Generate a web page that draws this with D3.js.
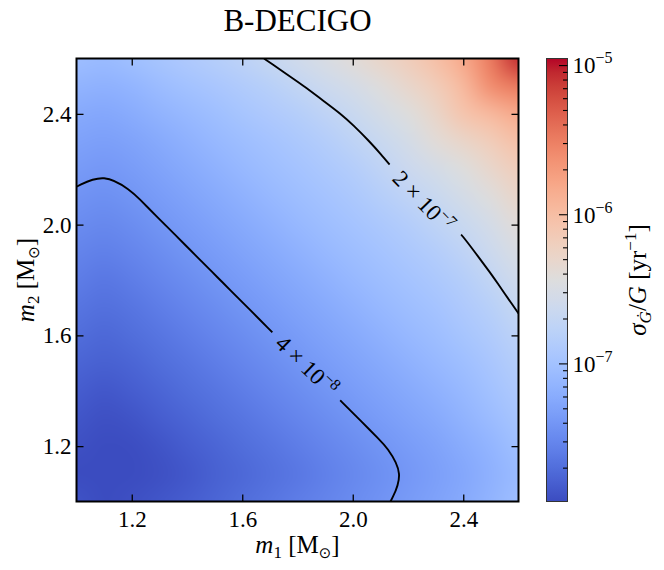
<!DOCTYPE html>
<html>
<head>
<meta charset="utf-8">
<script src="https://cdn.jsdelivr.net/npm/d3@7"></script>
<style>
  body { margin: 0; background: #fff; }
  text { font-family: "Liberation Serif", "DejaVu Serif", serif; fill: #000; }
</style>
</head>
<body>
<div id="content"></div>
<script>
let width = 664;
let height = 570;
let margin = ({top: 58.5, right: 145.5, bottom: 68.5, left: 76.5});

// Grid of masses (solar masses)
const m1Values = [1.0, 1.1, 1.2, 1.3, 1.4, 1.5, 1.6, 1.7, 1.8, 1.9, 2.0, 2.1, 2.2, 2.3, 2.4, 2.5, 2.6];
const m2Values = [1.0, 1.1, 1.2, 1.3, 1.4, 1.5, 1.6, 1.7, 1.8, 1.9, 2.0, 2.1, 2.2, 2.3, 2.4, 2.5, 2.6];

// log10 of sigma_Gdot/G [1/yr], one row per m2 value, one column per m1 value
const logSigma = [
  [-7.88, -7.93, -7.90, -7.86, -7.81, -7.76, -7.70, -7.65, -7.59, -7.54, -7.48, -7.42, -7.36, -7.30, -7.23, -7.14, -7.04],
  [-7.93, -7.97, -7.95, -7.90, -7.85, -7.79, -7.74, -7.68, -7.63, -7.57, -7.51, -7.45, -7.39, -7.33, -7.26, -7.17, -7.07],
  [-7.90, -7.95, -7.92, -7.87, -7.81, -7.76, -7.70, -7.65, -7.59, -7.53, -7.47, -7.41, -7.35, -7.29, -7.22, -7.13, -7.02],
  [-7.86, -7.90, -7.87, -7.81, -7.76, -7.70, -7.65, -7.59, -7.53, -7.47, -7.41, -7.35, -7.29, -7.23, -7.15, -7.06, -6.96],
  [-7.81, -7.85, -7.81, -7.76, -7.70, -7.65, -7.59, -7.53, -7.47, -7.41, -7.35, -7.29, -7.23, -7.17, -7.09, -7.00, -6.90],
  [-7.76, -7.79, -7.76, -7.70, -7.65, -7.59, -7.53, -7.47, -7.41, -7.35, -7.29, -7.23, -7.17, -7.10, -7.03, -6.94, -6.84],
  [-7.70, -7.74, -7.70, -7.65, -7.59, -7.53, -7.47, -7.41, -7.35, -7.29, -7.23, -7.17, -7.10, -7.04, -6.96, -6.88, -6.77],
  [-7.65, -7.68, -7.65, -7.59, -7.53, -7.47, -7.41, -7.35, -7.29, -7.23, -7.17, -7.10, -7.04, -6.98, -6.90, -6.81, -6.68],
  [-7.59, -7.63, -7.59, -7.53, -7.47, -7.41, -7.35, -7.29, -7.23, -7.17, -7.10, -7.04, -6.98, -6.92, -6.84, -6.72, -6.59],
  [-7.54, -7.57, -7.53, -7.47, -7.41, -7.35, -7.29, -7.23, -7.17, -7.10, -7.04, -6.98, -6.92, -6.85, -6.75, -6.63, -6.50],
  [-7.48, -7.51, -7.47, -7.41, -7.35, -7.29, -7.23, -7.17, -7.10, -7.04, -6.98, -6.92, -6.85, -6.76, -6.66, -6.54, -6.40],
  [-7.42, -7.45, -7.41, -7.35, -7.29, -7.23, -7.17, -7.10, -7.04, -6.98, -6.92, -6.84, -6.75, -6.66, -6.55, -6.43, -6.29],
  [-7.36, -7.39, -7.35, -7.29, -7.23, -7.17, -7.10, -7.04, -6.98, -6.92, -6.85, -6.75, -6.64, -6.55, -6.44, -6.31, -6.18],
  [-7.30, -7.33, -7.29, -7.23, -7.17, -7.10, -7.04, -6.98, -6.92, -6.85, -6.76, -6.66, -6.55, -6.40, -6.29, -6.17, -6.03],
  [-7.23, -7.26, -7.22, -7.15, -7.09, -7.03, -6.96, -6.90, -6.84, -6.75, -6.66, -6.55, -6.44, -6.29, -6.08, -5.96, -5.82],
  [-7.14, -7.17, -7.13, -7.06, -7.00, -6.94, -6.88, -6.81, -6.72, -6.63, -6.54, -6.43, -6.31, -6.17, -5.96, -5.61, -5.48],
  [-7.04, -7.07, -7.02, -6.96, -6.90, -6.84, -6.77, -6.68, -6.59, -6.50, -6.40, -6.29, -6.18, -6.03, -5.82, -5.48, -5.07]
];

// Contour levels drawn as lines
const contourLevels = [4e-8, 2e-7];

// Tick values
const xTicks = [1.2, 1.6, 2.0, 2.4];
const yTicks = [1.2, 1.6, 2.0, 2.4];
const cbarRange = [1.186e-8, 1.107e-5];
const cbarMajor = [1e-7, 1e-6, 1e-5];
const cbarMinor = [2e-8, 3e-8, 4e-8, 5e-8, 6e-8, 7e-8, 8e-8, 9e-8,
                   2e-7, 3e-7, 4e-7, 5e-7, 6e-7, 7e-7, 8e-7, 9e-7,
                   2e-6, 3e-6, 4e-6, 5e-6, 6e-6, 7e-6, 8e-6, 9e-6];

// coolwarm colour map stops
const coolwarm = ["#3b4cc0", "#445acc", "#4d68d7", "#5775e1", "#6282ea", "#6c8ef1", "#779af7", "#82a5fb",
                  "#8db0fe", "#98b9ff", "#a3c2ff", "#aec9fd", "#b8d0f9", "#c2d5f4", "#ccd9ee", "#d5dbe6",
                  "#dddddd", "#e5d8d1", "#ecd3c5", "#f1ccb9", "#f5c4ad", "#f7bba0", "#f7b194", "#f7a687",
                  "#f49a7b", "#f18d6f", "#ec7f63", "#e57058", "#de604d", "#d55042", "#cb3e38", "#c0282f", "#b40426"];

// where the inline contour labels sit (data coords) and their rotation
const labelSpots = [{m1: 1.834, m2: 1.491, angle: 44, gap: 96},
                    {m1: 2.256, m2: 2.084, angle: 46, gap: 100}];

let plotRight = width - margin.right;
let plotBottom = height - margin.bottom;
let cbar = ({left: 546.5, right: 567.5});

let svg = d3.select("#content")
    .append("svg")
    .attr("width", width)
    .attr("height", height);

let xScale = d3.scaleLinear()
    .domain([m1Values[0], m1Values[m1Values.length - 1]])
    .range([margin.left, plotRight]);
let yScale = d3.scaleLinear()
    .domain([m2Values[0], m2Values[m2Values.length - 1]])
    .range([plotBottom, margin.top]);

let logMin = Math.log10(cbarRange[0]);
let logMax = Math.log10(cbarRange[1]);
let tScale = d3.scaleLinear().domain([logMin, logMax]).range([0, 1]).clamp(true);
let cmap = d3.piecewise(d3.interpolateRgb, coolwarm);
let colorOf = v => cmap(tScale(v));

let defs = svg.append("defs");
defs.append("clipPath").attr("id", "plotClip")
    .append("rect")
    .attr("x", margin.left).attr("y", margin.top)
    .attr("width", plotRight - margin.left).attr("height", plotBottom - margin.top);

// grid coordinates (samples sit at k + 0.5) -> pixels
let nx = m1Values.length, ny = m2Values.length;
let gx = d3.scaleLinear().domain([0.5, nx - 0.5]).range([xScale(m1Values[0]), xScale(m1Values[nx - 1])]);
let gy = d3.scaleLinear().domain([0.5, ny - 0.5]).range([yScale(m2Values[0]), yScale(m2Values[ny - 1])]);
let flat = logSigma.flat();

// Field: one coloured pixel per grid cell, shown smoothly scaled (like imshow)
let small = document.createElement("canvas");
small.width = nx; small.height = ny;
let sctx = small.getContext("2d");
let img = sctx.createImageData(nx, ny);
logSigma.forEach((row, j) => row.forEach((v, i) => {
  let c = d3.rgb(colorOf(v));
  let k = ((ny - 1 - j) * nx + i) * 4;
  img.data[k] = c.r; img.data[k + 1] = c.g; img.data[k + 2] = c.b; img.data[k + 3] = 255;
}));
sctx.putImageData(img, 0, 0);

let fx0 = gx(0), fx1 = gx(nx), fy0 = gy(ny), fy1 = gy(0);
let big = document.createElement("canvas");
big.width = Math.round(fx1 - fx0); big.height = Math.round(fy1 - fy0);
let bctx = big.getContext("2d");
bctx.imageSmoothingEnabled = true;
bctx.imageSmoothingQuality = "high";
bctx.drawImage(small, 0, 0, big.width, big.height);

let field = svg.append("g").attr("clip-path", "url(#plotClip)");
field.append("image")
    .attr("href", big.toDataURL())
    .attr("x", fx0).attr("y", fy0)
    .attr("width", fx1 - fx0).attr("height", fy1 - fy0)
    .attr("preserveAspectRatio", "none");

// Contour lines: keep only the true crossings, drop the outer frame of each ring
function contourLines(geom) {
  let lines = [];
  let edge = p => p[0] === 0 || p[0] === nx || p[1] === 0 || p[1] === ny;
  geom.coordinates.forEach(poly => poly.forEach(ring => {
    let pts = ring.slice(0, -1);
    let k = pts.findIndex(edge);
    if (k < 0) { lines.push(ring); return; }
    pts = pts.slice(k).concat(pts.slice(0, k), [pts[k]]);
    let cur = [];
    pts.forEach(p => {
      if (edge(p)) {
        if (cur.length > 1) lines.push(cur);
        cur = [];
      } else {
        cur.push(p);
      }
    });
  }));
  return lines.map(l => l.map(p => [gx(p[0]), gy(p[1])]));
}

let mask = defs.append("mask").attr("id", "gapMask")
    .attr("maskUnits", "userSpaceOnUse")
    .attr("x", 0).attr("y", 0).attr("width", width).attr("height", height);
mask.append("rect").attr("width", width).attr("height", height).attr("fill", "white");
labelSpots.forEach(s => {
  mask.append("rect")
      .attr("x", -s.gap / 2).attr("y", -16)
      .attr("width", s.gap).attr("height", 32)
      .attr("fill", "black")
      .attr("transform", `translate(${xScale(s.m1)},${yScale(s.m2)}) rotate(${s.angle})`);
});

let lineGen = d3.line().curve(d3.curveBasis);
let contourGeoms = d3.contours().size([nx, ny])
    .thresholds(contourLevels.map(v => Math.log10(v)))(flat);

let lineLayer = svg.append("g").attr("clip-path", "url(#plotClip)")
    .append("g").attr("mask", "url(#gapMask)");
contourGeoms.forEach(g => {
  contourLines(g).forEach(l => {
    lineLayer.append("path")
        .attr("d", lineGen(l))
        .attr("fill", "none")
        .attr("stroke", "#000")
        .attr("stroke-width", 1.9);
  });
});

// Inline labels
contourLevels.forEach((v, i) => {
  let s = labelSpots[i];
  let parts = v.toExponential().split("e");
  let t = svg.append("text")
      .attr("transform", `translate(${xScale(s.m1)},${yScale(s.m2)}) rotate(${s.angle})`)
      .attr("text-anchor", "middle")
      .attr("dy", "0.35em")
      .attr("font-size", 23);
  t.append("tspan").text(`${parts[0]} × 10`);
  t.append("tspan").attr("dy", -9).attr("font-size", 16).text("\u2212" + (-parseInt(parts[1])));
});

// Axes: ticks inward on all four sides
let fmt = d3.format(".1f");
let axB = svg.append("g")
    .attr("transform", `translate(0,${plotBottom})`)
    .call(d3.axisBottom(xScale).tickValues(xTicks).tickSize(-7).tickPadding(9).tickFormat(fmt));
let axT = svg.append("g")
    .attr("transform", `translate(0,${margin.top})`)
    .call(d3.axisTop(xScale).tickValues(xTicks).tickSize(-7).tickFormat(""));
let axL = svg.append("g")
    .attr("transform", `translate(${margin.left},0)`)
    .call(d3.axisLeft(yScale).tickValues(yTicks).tickSize(-7).tickPadding(5).tickFormat(fmt));
let axR = svg.append("g")
    .attr("transform", `translate(${plotRight},0)`)
    .call(d3.axisRight(yScale).tickValues(yTicks).tickSize(-7).tickFormat(""));
[axB, axT, axL, axR].forEach(a => {
  a.select(".domain").remove();
  a.selectAll(".tick line").attr("stroke", "#000").attr("stroke-width", 1.3);
  a.selectAll("text").attr("font-size", 23).attr("font-family", null).attr("fill", "#000");
});

svg.append("rect")
    .attr("x", margin.left).attr("y", margin.top)
    .attr("width", plotRight - margin.left).attr("height", plotBottom - margin.top)
    .attr("fill", "none").attr("stroke", "#000").attr("stroke-width", 2);

// Axis labels
function massLabel(sel, idx) {
  sel.attr("font-size", 25).attr("text-anchor", "middle");
  sel.append("tspan").attr("font-style", "italic").text("m");
  sel.append("tspan").attr("font-size", 17).attr("dy", 5).text(idx);
  sel.append("tspan").attr("dy", -5).text(" [M");
  sel.append("tspan").attr("font-size", 15).attr("dy", 5).attr("font-family", "DejaVu Sans").text("\u2299");
  sel.append("tspan").attr("dy", -5).text("]");
}
svg.append("text")
    .attr("x", (margin.left + plotRight) / 2).attr("y", 553)
    .call(massLabel, "1");
svg.append("text")
    .attr("transform", `translate(34,${(margin.top + plotBottom) / 2}) rotate(-90)`)
    .call(massLabel, "2");

// Title
svg.append("text")
    .attr("x", (margin.left + plotRight) / 2).attr("y", 31)
    .attr("text-anchor", "middle")
    .attr("font-size", 31)
    .text("B-DECIGO");

// Colour bar
let cScale = d3.scaleLog().domain(cbarRange).range([plotBottom, margin.top]);
let grad = defs.append("linearGradient").attr("id", "cbarGrad")
    .attr("x1", 0).attr("y1", 1).attr("x2", 0).attr("y2", 0);
d3.range(0, 1.0001, 1 / 64).forEach(o => {
  grad.append("stop").attr("offset", o).attr("stop-color", cmap(o));
});
svg.append("rect")
    .attr("x", cbar.left).attr("y", margin.top)
    .attr("width", cbar.right - cbar.left).attr("height", plotBottom - margin.top)
    .attr("fill", "url(#cbarGrad)")
    .attr("stroke", "#333").attr("stroke-width", 1);

let cMinor = svg.append("g")
    .attr("transform", `translate(${cbar.right},0)`)
    .call(d3.axisLeft(cScale).tickValues(cbarMinor).tickSize(4.5).tickFormat(""));
let cMajor = svg.append("g")
    .attr("transform", `translate(${cbar.right},0)`)
    .call(d3.axisLeft(cScale).tickValues(cbarMajor).tickSize(8.5).tickFormat(""));
[cMinor, cMajor].forEach(a => {
  a.select(".domain").remove();
  a.selectAll(".tick line").attr("stroke", "#000").attr("stroke-width", 1.1);
});

cbarMajor.forEach(v => {
  let t = svg.append("text")
      .attr("x", cbar.right + 5).attr("y", cScale(v))
      .attr("dy", "0.36em")
      .attr("font-size", 23);
  t.append("tspan").text("10");
  t.append("tspan").attr("dy", -10).attr("font-size", 16).text("\u2212" + Math.round(-Math.log10(v)));
});

let cl = svg.append("text")
    .attr("transform", `translate(646,${(margin.top + plotBottom) / 2}) rotate(-90)`)
    .attr("text-anchor", "middle")
    .attr("font-size", 25);
cl.append("tspan").attr("font-style", "italic").text("σ");
cl.append("tspan").attr("font-style", "italic").attr("font-size", 17).attr("dy", 5).text("Ġ");
cl.append("tspan").attr("dy", -5).text("/");
cl.append("tspan").attr("font-style", "italic").text("G");
cl.append("tspan").text(" [yr");
cl.append("tspan").attr("font-size", 17).attr("dy", -10).text("\u22121");
cl.append("tspan").attr("dy", 10).text("]");
</script>
</body>
</html>
